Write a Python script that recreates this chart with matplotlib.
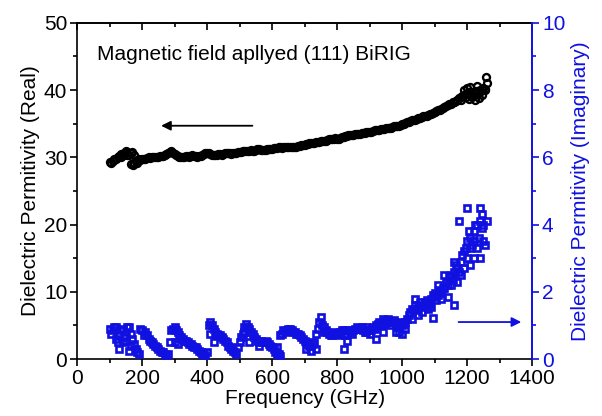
import numpy as np
import matplotlib
matplotlib.use('Agg')
import matplotlib.pyplot as plt

plt.rcParams['font.family'] = ['Liberation Sans', 'DejaVu Sans']

# real part (left axis), read every 10 GHz
freq = np.arange(100, 1261, 10)
eps_real = [29.3, 29.5, 29.8, 30.2, 30.4, 30.6, 30.4, 30.8, 29.4, 29.8,
            29.7, 29.8, 30.0, 30.0, 30.1, 30.1, 30.2, 30.3, 30.6, 30.9,
            30.5, 30.2, 30.1, 30.1, 30.2, 30.2, 30.2, 30.1, 30.2, 30.5,
            30.7, 30.5, 30.3, 30.4, 30.5, 30.5, 30.6, 30.6, 30.6, 30.7,
            30.8, 30.9, 31.0, 31.0, 31.0, 31.1, 31.2, 31.1, 31.1, 31.2,
            31.3, 31.4, 31.5, 31.4, 31.5, 31.6, 31.5, 31.5, 31.7, 31.8,
            31.9, 32.0, 32.2, 32.2, 32.3, 32.4, 32.5, 32.6, 32.7, 32.8,
            32.8, 32.9, 33.0, 33.2, 33.3, 33.3, 33.4, 33.5, 33.6, 33.7,
            33.8, 33.9, 34.0, 34.1, 34.2, 34.3, 34.4, 34.5, 34.6, 34.7,
            34.9, 35.1, 35.3, 35.5, 35.6, 35.8, 36.0, 36.1, 36.3, 36.5,
            36.7, 37.0, 37.2, 37.5, 37.8, 38.0, 38.3, 38.6, 39.0, 39.3,
            39.5, 39.7, 39.6, 39.8, 40.0, 40.3, 41.0]
# readings in between (105, 115, ... 1255 GHz)
freq_b = np.arange(105, 1256, 10)
eps_real_b = [29.2, 29.7, 30.0, 30.1, 30.6, 30.3, 30.6, 29.2, 29.6, 29.6,
              29.8, 29.9, 29.9, 30.1, 30.0, 30.2, 30.2, 30.5, 30.8, 30.7,
              30.3, 30.1, 30.0, 30.2, 30.1, 30.3, 30.2, 30.2, 30.4, 30.6,
              30.6, 30.4, 30.4, 30.5, 30.4, 30.6, 30.6, 30.5, 30.7, 30.8,
              30.8, 31.0, 30.9, 31.1, 31.0, 31.2, 31.1, 31.1, 31.2, 31.2,
              31.4, 31.4, 31.5, 31.5, 31.6, 31.5, 31.5, 31.6, 31.7, 31.9,
              32.0, 32.1, 32.1, 32.3, 32.3, 32.5, 32.5, 32.7, 32.7, 32.9,
              32.8, 33.0, 33.1, 33.3, 33.3, 33.4, 33.4, 33.6, 33.6, 33.8,
              33.8, 34.0, 34.0, 34.2, 34.2, 34.4, 34.4, 34.6, 34.6, 34.8,
              35.0, 35.2, 35.4, 35.6, 35.7, 35.9, 36.1, 36.2, 36.4, 36.6,
              36.9, 37.1, 37.4, 37.6, 37.9, 38.2, 38.4, 38.8, 39.1, 39.4,
              39.5, 39.3, 39.9, 39.6, 40.1, 40.0]
# extra scattered real points
freq_r2 = [135, 150, 165, 172, 175, 185, 1160, 1180, 1190, 1195, 1200, 1205,
           1210, 1215, 1225, 1230, 1235, 1245, 1255, 1258]
eps_real2 = [30.5, 30.9, 29.0, 28.8, 30.3, 29.2, 38.2, 38.6, 40.0, 39.0, 40.3, 38.7,
             40.5, 39.0, 38.5, 40.6, 38.8, 39.3, 40.2, 42.0]

# imaginary part (right axis)
eps_imag = [0.9, 0.85, 0.95, 0.7, 0.9, 0.8, 0.95, 0.6, 0.3, 0.15,
            0.85, 0.8, 0.6, 0.5, 0.4, 0.3, 0.2, 0.15, 0.15, 0.85,
            0.95, 0.8, 0.65, 0.55, 0.5, 0.45, 0.35, 0.3, 0.2, 0.15,
            0.2, 1.1, 0.9, 0.75, 0.7, 0.6, 0.5, 0.35, 0.25, 0.15,
            0.5, 0.75, 1.05, 0.9, 0.75, 0.6, 0.5, 0.5, 0.55, 0.45,
            0.35, 0.2, 0.15, 0.75, 0.8, 0.9, 0.85, 0.8, 0.75, 0.65,
            0.55, 0.45, 0.4, 0.5, 0.9, 1.25, 0.95, 0.8, 0.7, 0.75,
            0.75, 0.8, 0.85, 0.75, 0.8, 0.85, 0.95, 0.9, 0.85, 0.8,
            0.75, 0.95, 1.0, 1.1, 1.2, 1.15, 1.1, 1.1, 1.05, 1.0,
            1.0, 1.1, 1.3, 1.5, 1.6, 1.55, 1.6, 1.65, 1.7, 1.8,
            1.85, 1.9, 2.0, 2.1, 2.2, 2.5, 2.6, 2.7, 2.9, 3.2,
            3.5, 3.6, 3.8, 4.0, 4.1, 4.0, 4.1]
eps_imag_b = [0.75, 0.95, 0.5, 0.85, 0.65, 0.95, 0.75, 0.45, 0.2, 0.9,
              0.7, 0.7, 0.55, 0.45, 0.35, 0.25, 0.2, 0.1, 0.5, 0.9,
              0.85, 0.7, 0.6, 0.55, 0.45, 0.4, 0.35, 0.25, 0.15, 0.1,
              1.0, 1.0, 0.8, 0.7, 0.65, 0.55, 0.4, 0.3, 0.2, 0.35,
              0.65, 0.95, 0.95, 0.8, 0.65, 0.55, 0.55, 0.5, 0.5, 0.4,
              0.3, 0.15, 0.7, 0.85, 0.85, 0.9, 0.8, 0.75, 0.7, 0.6,
              0.5, 0.4, 0.45, 0.75, 1.1, 1.0, 0.85, 0.75, 0.7, 0.8,
              0.7, 0.85, 0.7, 0.85, 0.75, 0.9, 0.9, 0.95, 0.8, 0.85,
              0.85, 0.9, 1.05, 1.0, 1.05, 1.2, 1.0, 1.15, 0.95, 1.1,
              1.05, 1.2, 1.4, 1.45, 1.5, 1.7, 1.55, 1.75, 1.65, 1.9,
              1.75, 2.05, 2.1, 2.3, 2.45, 2.35, 2.8, 2.6, 3.1, 3.3,
              3.8, 3.4, 4.0, 3.6, 3.9, 3.4]
freq_i2 = [120, 130, 140, 150, 160, 165, 300, 310, 410, 420, 515, 530, 560, 615,
           625, 705, 720, 735, 760, 820, 830, 890, 920, 940, 980, 990, 1000, 1010,
           1030, 1040, 1050, 1060, 1070, 1080, 1090, 1095, 1100, 1110, 1120, 1130,
           1140, 1150, 1160, 1160, 1170, 1175, 1180, 1190, 1200, 1200, 1210, 1210,
           1220, 1220, 1230, 1240, 1240, 1250, 1245]
eps_imag2 = [0.6, 0.3, 0.5, 0.55, 0.25, 0.4, 0.5, 0.45, 0.75, 0.5, 0.8, 0.5, 0.4, 0.35,
             0.1, 0.3, 0.25, 0.3, 0.8, 0.3, 0.55, 0.95, 0.6, 0.8, 0.8, 0.8, 0.75, 0.9,
             1.2, 1.8, 1.3, 1.4, 1.7, 1.5, 1.55, 1.22, 1.95, 2.2, 1.8, 2.5,
             1.85, 2.2, 1.6, 2.9, 2.3, 4.1, 2.5, 2.7, 3.0, 4.5, 3.3, 2.8,
             3.0, 3.5, 3.3, 4.5, 3.0, 3.5, 4.3]

blue = '#1010e0'
fs = 15

fig = plt.figure(figsize=(6.02, 4.16), dpi=100)
ax = fig.add_axes([0.128, 0.137, 0.756, 0.808])
ax2 = ax.twinx()

circ = dict(ls='none', marker='o', ms=5, mfc='none', mec='black', mew=1.7)
sq = dict(ls='none', marker='s', ms=5, mfc='none', mec=blue, mew=1.9)
ax.plot(freq, eps_real, **circ)
ax.plot(freq_b, eps_real_b, **circ)
ax.plot(freq_r2, eps_real2, **circ)
ax2.plot(freq, eps_imag, **sq)
ax2.plot(freq_b, eps_imag_b, **sq)
ax2.plot(freq_i2, eps_imag2, **sq)

ax.set_xlim(0, 1400)
ax.set_ylim(0, 50)
ax2.set_ylim(0, 10)
ax.set_xticks(np.arange(0, 1401, 200))
ax.set_xticks(np.arange(100, 1400, 200), minor=True)
ax.set_yticks(np.arange(0, 51, 10))
ax.set_yticks(np.arange(5, 50, 10), minor=True)
ax2.set_yticks(np.arange(0, 11, 2))
ax2.set_yticks(np.arange(1, 10, 2), minor=True)

ax.tick_params(axis='both', which='major', labelsize=fs, length=5, width=1.2, direction='out', pad=2)
ax.tick_params(axis='both', which='minor', length=3, width=1.2, direction='out')
ax2.tick_params(axis='y', which='major', labelsize=fs, length=5, width=1.2,
                colors=blue, direction='out', pad=2)
ax2.tick_params(axis='y', which='minor', length=3, width=1.2, colors=blue, direction='out')

# top axis: ticks pointing inward, no labels
top = ax.secondary_xaxis('top')
top.set_xticks(np.arange(0, 1401, 200))
top.set_xticks(np.arange(100, 1400, 200), minor=True)
top.tick_params(which='major', direction='in', length=5, width=1.2, labeltop=False)
top.tick_params(which='minor', direction='in', length=3, width=1.2)
top.spines['top'].set_linewidth(1.2)

for s in ax.spines.values():
    s.set_linewidth(1.2)
for s in ['top', 'left', 'bottom']:
    ax2.spines[s].set_visible(False)
ax2.spines['right'].set_color(blue)
ax2.spines['right'].set_linewidth(1.4)
ax.spines['right'].set_visible(False)

ax.set_xlabel('Frequency (GHz)', fontsize=fs, labelpad=1)
ax.set_ylabel('Dielectric Permitivity (Real)', fontsize=fs, labelpad=3)
ax2.set_ylabel('Dielectric Permitivity (Imaginary)', fontsize=fs, color=blue, labelpad=4)

ax.text(62, 45.3, 'Magnetic field apllyed (111) BiRIG', fontsize=fs, va='center')

ax.annotate('', xy=(250, 34.7), xytext=(548, 34.7),
            arrowprops=dict(arrowstyle='-|>', color='black', lw=1.3, mutation_scale=14))
ax2.annotate('', xy=(1375, 1.1), xytext=(1165, 1.1),
             arrowprops=dict(arrowstyle='-|>', color=blue, lw=1.3, mutation_scale=14))

fig.savefig('out.png', dpi=100)
